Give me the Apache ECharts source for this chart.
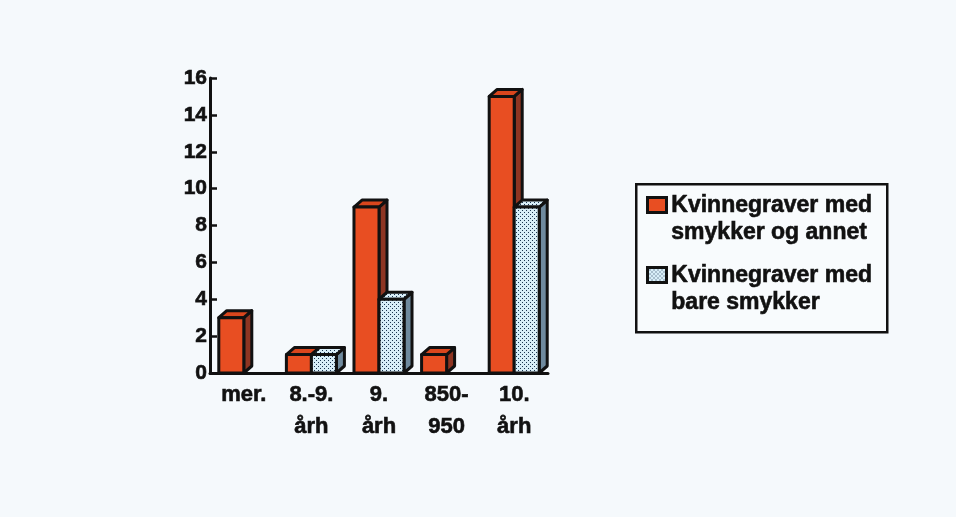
<!DOCTYPE html>
<html>
<head>
<meta charset="utf-8">
<script src="https://cdn.jsdelivr.net/npm/echarts@6/dist/echarts.min.js"></script>
<style>
	html, body { margin: 0; padding: 0; background: #f5f9fc; }
	#chart { width: 956px; height: 517px; }
</style>
</head>
<body>
<div id="chart"></div>
<script>
const categories = ['mer.', '8.-9.\nårh', '9.\nårh', '850-\n950', '10.\nårh'];
const seriesNames = ['Kvinnegraver med\nsmykker og annet', 'Kvinnegraver med\nbare smykker'];
const withOther = [3, 1, 9, 1, 15];
const onlyJewellery = [0, 1, 4, 0, 9];
const yMax = 16;
const yStep = 2;

const FONT = 'Liberation Sans';
const INK = '#111111';
const DX = 8, DY = 7;

// dotted fill for the second series
function dotPattern() {
	const c = document.createElement('canvas');
	c.width = 4; c.height = 4;
	const g = c.getContext('2d');
	g.fillStyle = '#d8eef8';
	g.fillRect(0, 0, 4, 4);
	g.fillStyle = '#1c3550';
	g.fillRect(0, 0, 1, 1);
	g.fillRect(2, 2, 1, 1);
	return c;
}
const dots = { image: dotPattern(), repeat: 'repeat' };

const faces = [
	{ front: '#e84e22', top: '#d9461d', side: '#8e3522' },
	{ front: dots, top: dots, side: '#6f8a9e' }
];

// text a bit heavier, like the scanned original
const heavy = { textBorderColor: INK, textBorderWidth: 0.6 };

function renderBar(params, api) {
	const cat = api.value(0);
	const v = api.value(1);
	if (!v) return;
	const base = api.coord([cat, 0]);
	const top = api.coord([cat, v]);
	const bw = api.size([1, 0])[0] * 0.37;
	const x0 = base[0] + (params.seriesIndex === 0 ? -bw : 0);
	const x1 = x0 + bw;
	const y0 = top[1], y1 = base[1];
	const f = faces[params.seriesIndex];
	const stroke = { stroke: INK, lineWidth: 3, lineJoin: 'round' };
	return {
		type: 'group',
		children: [
			{ type: 'polygon', shape: { points: [[x1, y0], [x1 + DX, y0 - DY], [x1 + DX, y1 - DY], [x1, y1]] },
				style: Object.assign({ fill: f.side }, stroke) },
			{ type: 'polygon', shape: { points: [[x0, y0], [x0 + DX, y0 - DY], [x1 + DX, y0 - DY], [x1, y0]] },
				style: Object.assign({ fill: f.top }, stroke) },
			{ type: 'rect', shape: { x: x0, y: y0, width: bw, height: y1 - y0 },
				style: Object.assign({ fill: f.front }, stroke) }
		]
	};
}

const chart = echarts.init(document.getElementById('chart'));

const legendItems = [];
seriesNames.forEach((name, i) => {
	const top = 195 + i * 70;
	legendItems.push({
		type: 'rect', left: 646, top: top + 1, shape: { width: 19, height: 15 },
		style: { fill: faces[i].front, stroke: INK, lineWidth: 3 }
	});
	legendItems.push({
		type: 'text', left: 671, top: top - 3,
		style: { text: name, font: 'bold 23px "' + FONT + '"', lineHeight: 27, fill: INK, stroke: INK, lineWidth: 0.6 }
	});
});

chart.setOption({
	backgroundColor: '#f5f9fc',
	animation: false,
	grid: { left: 210, right: 408, top: 78, bottom: 144 },
	xAxis: {
		type: 'category',
		data: categories,
		axisLine: { lineStyle: { color: INK, width: 3 } },
		axisTick: { inside: true, length: 6, lineStyle: { color: INK, width: 2.5 } },
		axisLabel: Object.assign({ color: INK, fontFamily: FONT, fontWeight: 'bold', fontSize: 22, lineHeight: 32, margin: 6, interval: 0 }, heavy)
	},
	yAxis: {
		type: 'value',
		min: 0, max: yMax, interval: yStep,
		axisLine: { show: true, lineStyle: { color: INK, width: 3 } },
		axisTick: { show: true, inside: true, length: 7, lineStyle: { color: INK, width: 2.5 } },
		splitLine: { show: false },
		axisLabel: Object.assign({ color: INK, fontFamily: FONT, fontWeight: 'bold', fontSize: 21, margin: 3 }, heavy)
	},
	series: [withOther, onlyJewellery].map((vals, i) => ({
		type: 'custom',
		name: seriesNames[i],
		renderItem: renderBar,
		encode: { x: 0, y: 1 },
		data: vals.map((v, k) => [k, v]),
		clip: false
	})),
	graphic: [
		{ type: 'rect', left: 635, top: 183, shape: { width: 251, height: 148 },
			style: { fill: '#f8fbfd', stroke: INK, lineWidth: 2.5 } }
	].concat(legendItems)
});
</script>
</body>
</html>
